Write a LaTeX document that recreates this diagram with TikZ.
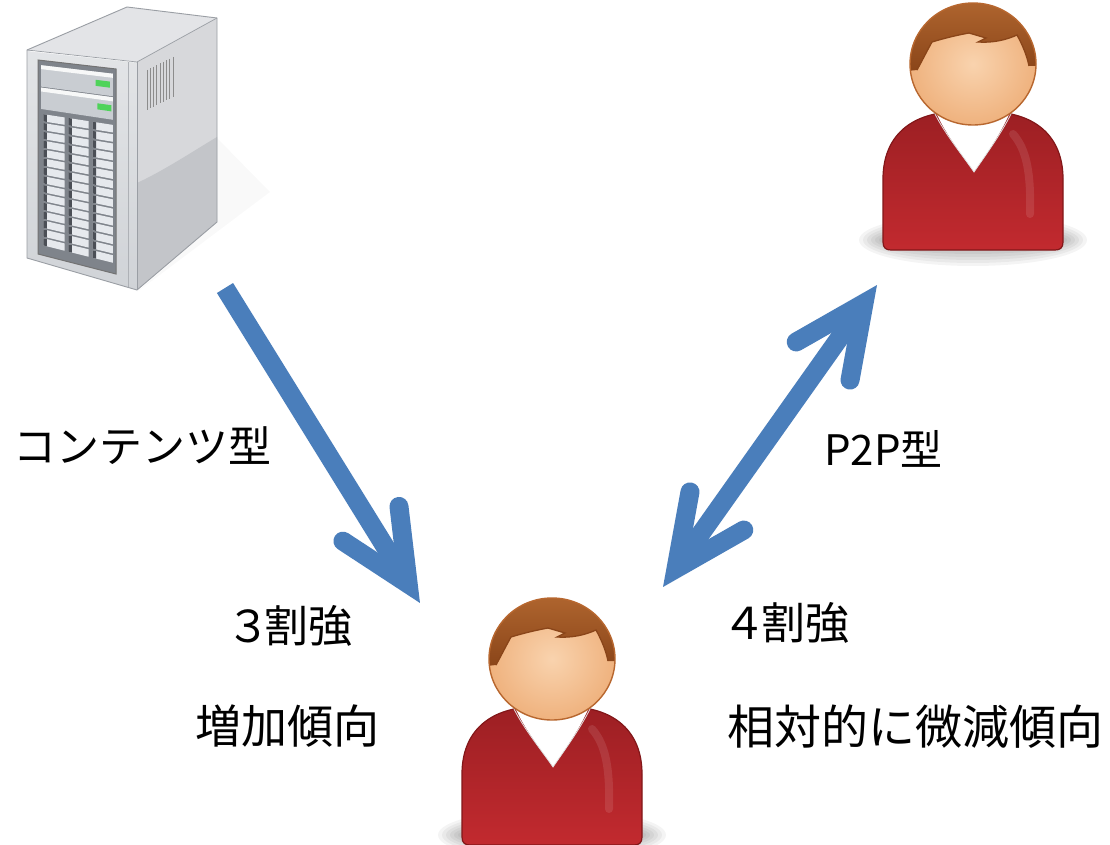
\documentclass[tikz,border=0pt]{standalone}
\usepackage{fontspec}
\setmainfont{Noto Sans CJK JP}
\usetikzlibrary{calc}

\definecolor{arrowblue}{HTML}{4A7EBB}
% person colours
\definecolor{skin}{HTML}{EFB27E}
\definecolor{skinlight}{HTML}{F9D3AE}
\definecolor{skinedge}{HTML}{B8672F}
\definecolor{hairlight}{HTML}{B56A32}
\definecolor{hairdark}{HTML}{8A4519}
\definecolor{shirt}{HTML}{C22A2F}
\definecolor{shirtmid}{HTML}{C72C31}
\definecolor{shirtdark}{HTML}{9C1F23}
\definecolor{shirtedge}{HTML}{821719}
% server colours
\definecolor{srvtop}{HTML}{E3E4E7}
\definecolor{srvside}{HTML}{D7D8DB}
\definecolor{srvsidelow}{HTML}{C3C5C9}
\definecolor{srvfront}{HTML}{D0D3D7}
\definecolor{srvedge}{HTML}{9A9EA4}
\definecolor{srvpanel}{HTML}{7F848B}
\definecolor{srvcell}{HTML}{E6E9ED}
\definecolor{srvhandle}{HTML}{4B4F56}
\definecolor{srvbay}{HTML}{C9CDD2}
\definecolor{srvled}{HTML}{4FD35A}

% a cell of the front panel, placed by bilinear interpolation
% #1,#2: horizontal fractions, #3,#4: vertical fractions, #5: fill style
\newcommand\panelcell[5]{%
  \coordinate (u0) at ($(pTL)!#1!(pTR)$);
  \coordinate (d0) at ($(pBL)!#1!(pBR)$);
  \coordinate (u1) at ($(pTL)!#2!(pTR)$);
  \coordinate (d1) at ($(pBL)!#2!(pBR)$);
  \fill[#5] ($(u0)!#3!(d0)$) -- ($(u1)!#3!(d1)$) -- ($(u1)!#4!(d1)$) -- ($(u0)!#4!(d0)$) -- cycle;}

% open arrow head: #1 tip, #2 point back along the shaft, #3 name prefix
\newcommand\openhead[3]{%
  \coordinate (#3v) at ($(#1)!22.5pt!(#2)$);
  \coordinate (#3a) at ($(#3v)!78pt!25:(#2)$);
  \coordinate (#3b) at ($(#3v)!78pt!-25:(#2)$);
  \draw[barbs] (#3a) -- (#3v) -- (#3b);}

\tikzset{
  shaft/.style={draw=arrowblue, line width=19pt, line cap=butt},
  barbs/.style={draw=arrowblue, line width=19pt, line cap=round, line join=miter},
  lbl/.style={anchor=west, inner sep=0pt, text=black},
  person/.pic={
    % soft ground shadow
    \foreach \k in {0,...,5}{
      \pgfmathsetmacro\rx{114-4*\k}
      \pgfmathsetmacro\ry{26-3*\k}
      \fill[black, opacity=0.045] (0,176) ellipse [x radius=\rx pt, y radius=\ry pt];
    }
    % body
    \shadedraw[draw=shirtedge, line width=1.2pt, top color=shirtdark, middle color=shirtmid, bottom color=shirt]
      (-90,178) -- (-90,115) .. controls (-90,72) and (-62,50) .. (-22,48) -- (22,48)
      .. controls (62,50) and (90,72) .. (90,115) -- (90,178)
      .. controls (90,184) and (87,186) .. (82,186) -- (-82,186)
      .. controls (-87,186) and (-90,184) .. (-90,178) -- cycle;
    % shoulder highlight
    \draw[white, opacity=0.1, line width=8pt, line cap=round]
      (40,70) .. controls (54,86) and (58,110) .. (57,150);
    % collar
    \fill[white] (-38,46) -- (38,46) .. controls (28,70) and (12,92) .. (1,108)
      .. controls (-10,92) and (-28,70) .. (-38,46) -- cycle;
    \draw[black!12, line width=0.8pt] (38,50) .. controls (28,70) and (12,92) .. (1,108)
      .. controls (-10,92) and (-28,70) .. (-38,50);
    % face
    \shade[inner color=skinlight, outer color=skin] (0,0) ellipse [x radius=63pt, y radius=61pt];
    % hair
    \begin{scope}
      \clip (0,0) ellipse [x radius=63pt, y radius=61pt];
      \shade[top color=hairlight, bottom color=hairdark]
        (-75,8) -- (-56,6) .. controls (-50,-5) and (-45,-15) .. (-41,-22)
        .. controls (-28,-26) and (-15,-29) .. (-4,-31) -- (13,-26) -- (5,-22)
        .. controls (20,-21) and (33,-24) .. (44,-29)
        .. controls (50,-18) and (54,-8) .. (56,2) -- (75,2) -- (75,-75) -- (-75,-75) -- cycle;
      \draw[hairdark, line width=1.3pt]
        (-56,6) .. controls (-50,-5) and (-45,-15) .. (-41,-22)
        .. controls (-28,-26) and (-15,-29) .. (-4,-31) -- (13,-26) -- (5,-22)
        .. controls (20,-21) and (33,-24) .. (44,-29)
        .. controls (50,-18) and (54,-8) .. (56,2);
    \end{scope}
    \draw[skinedge, line width=1.4pt] (0,0) ellipse [x radius=63pt, y radius=61pt];
  }
}

\begin{document}
\begin{tikzpicture}[x=1pt, y=-1pt]
\useasboundingbox (0,0) rectangle (1110,845);
\fill[white] (0,0) rectangle (1110,845);

% ---------------- server ----------------
\fill[black, opacity=0.025] (217,138) -- (270,192) -- (137,292) -- (217,222) -- cycle;
\fill[srvtop] (27,50) -- (127,7) -- (217,18) -- (137,62) -- cycle;
\fill[srvside] (137,62) -- (217,18) -- (217,222) -- (137,290) -- cycle;
\fill[srvsidelow] (137,183) .. controls (165,170) and (195,150) .. (217,137) -- (217,222) -- (137,290) -- cycle;
\shade[top color=srvfront!60!white, bottom color=srvfront] (27,50) -- (137,62) -- (137,290) -- (27,258) -- cycle;
\draw[srvedge!80, line width=0.8pt] (128,61) -- (128,287);
\draw[white, line width=0.8pt] (30,51) -- (134,62);
% vent slats
\foreach \i in {0,...,8}{
  \pgfmathsetmacro\vx{147+3.25*\i}
  \pgfmathsetmacro\vt{70-0.5*3.25*\i}
  \pgfmathsetmacro\vb{110-0.5*3.25*\i}
  \draw[black!45, line width=1pt] (\vx,\vt) -- (\vx,\vb);
}
% outline
\draw[srvedge, line width=0.9pt, line join=round]
  (27,50) -- (127,7) -- (217,18) -- (217,222) -- (137,290) -- (27,258) -- cycle;
\draw[srvedge, line width=0.7pt] (27,50) -- (137,62) -- (217,18);
\draw[srvedge, line width=0.7pt] (137,62) -- (137,290);

% front panel
\coordinate (pTL) at (38,60);
\coordinate (pTR) at (116,69);
\coordinate (pBL) at (38,254);
\coordinate (pBR) at (116,274);
\fill[srvpanel] (pTL) -- (pTR) -- (pBR) -- (pBL) -- cycle;
% drive bays with indicator lights
\panelcell{0.04}{0.96}{0.025}{0.135}{srvbay}
\panelcell{0.04}{0.96}{0.140}{0.250}{srvbay}
\panelcell{0.04}{0.96}{0.025}{0.045}{white!85!srvbay}
\panelcell{0.04}{0.96}{0.140}{0.160}{white!85!srvbay}
\panelcell{0.74}{0.92}{0.065}{0.095}{srvled}
\panelcell{0.76}{0.94}{0.180}{0.210}{srvled}
% drive slots
\foreach \r in {0,...,14}{
  \pgfmathsetmacro\ta{0.275+\r*0.0455}
  \pgfmathsetmacro\tb{\ta+0.037}
  \foreach \sa/\sb in {0.07/0.34, 0.39/0.65, 0.70/0.96}{
    \pgfmathsetmacro\sh{\sa+0.045}
    \panelcell{\sa}{\sb}{\ta}{\tb}{srvcell}
    \panelcell{\sa}{\sh}{\ta}{\tb}{srvhandle}
  }
}
\draw[black!55, line width=1pt] (pTL) -- (pTR) -- (pBR) -- (pBL) -- cycle;

% ---------------- people ----------------
\pic (peerpc) at (973,64) {person};
\pic (userpc) at (552,659) {person};

% ---------------- arrows ----------------
\coordinate (dlstart) at (225,288);
\coordinate (dltip) at (420,603);
\openhead{dltip}{dlstart}{dlh}
\draw[shaft] (dlstart) -- (dlhv);

\coordinate (p2plow) at (663,587);
\coordinate (p2phigh) at (877,285);
\openhead{p2phigh}{p2plow}{p2hh}
\openhead{p2plow}{p2phigh}{p2lh}
\draw[shaft] (p2lhv) -- (p2hhv);

% ---------------- labels ----------------
\node[lbl, font=\fontsize{43}{50}\selectfont] (contentlbl) at (13,446) {コンテンツ型};
\node[lbl, font=\fontsize{42}{50}\selectfont] (p2plbl) at (824,449) {P2P型};
\node[lbl, font=\fontsize{44}{50}\selectfont] (dlshare) at (226,626) {３\kern-6pt 割強};
\node[lbl, font=\fontsize{46}{50}\selectfont] (dltrend) at (195,726) {増加傾向};
\node[lbl, font=\fontsize{44}{50}\selectfont] (p2pshare) at (722,623) {４\kern-5pt 割強};
\node[lbl, font=\fontsize{47}{50}\selectfont] (p2ptrend) at (727,727) {相対的に微減傾向};
\end{tikzpicture}
\end{document}
